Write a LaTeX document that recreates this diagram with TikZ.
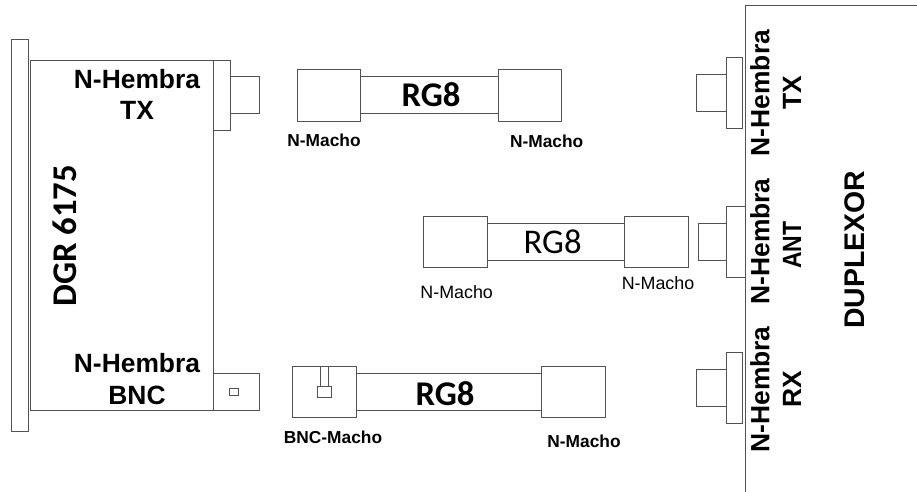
\documentclass[tikz,border=0pt]{standalone}
\usepackage{fontspec}
\setmainfont{Liberation Sans}
\newfontfamily\calibri{Carlito}
\begin{document}
\begin{tikzpicture}[x=0.75pt,y=-0.75pt,
    part/.style={draw=black!68,line width=0.75pt},
    portlabel/.style={font=\fontsize{19.8}{23}\selectfont\bfseries,inner sep=0pt},
    smalllabel/.style={font=\fontsize{13}{15}\selectfont\bfseries,inner sep=0pt},
    thinlabel/.style={font=\fontsize{13.4}{15}\selectfont,inner sep=0pt},
    cablelabel/.style={font=\calibri\fontsize{26}{30}\selectfont\bfseries,inner sep=0pt}]
  \useasboundingbox (0,0) rectangle (917,492);
  % ---- DGR unit, front plate and body ----
  \draw[part] (11.7,39.3) rectangle (28.5,431);
  \draw[part] (30,60.3) rectangle (213,410.3);
  \node[cablelabel,rotate=90] (dgr) at (65,236) {DGR 6175};
  % TX port
  \draw[part] (213,60.3) rectangle (230,130);
  \draw[part] (230,76.7) rectangle (259.5,113.7);
  \node[portlabel] (dgrtxa) at (137,79) {N-Hembra};
  \node[portlabel] (dgrtxb) at (137,110) {TX};
  % BNC port
  \draw[part] (213,373.3) rectangle (259,410.3);
  \draw[part] (229.5,388.7) rectangle (238.5,395.3);
  \node[portlabel] (dgrbnca) at (137,363) {N-Hembra};
  \node[portlabel] (dgrbncb) at (137,395) {BNC};
  % ---- cable 1 ----
  \draw[part] (297,69.7) rectangle (360.7,121);
  \draw[part] (360.7,76.7) rectangle (498.3,113.7);
  \draw[part] (498.3,69.7) rectangle (561.7,121);
  \node[cablelabel] (rgone) at (431,95) {RG8};
  \node[smalllabel] (maleonea) at (324,140) {N-Macho};
  \node[smalllabel] (maleoneb) at (546.7,141) {N-Macho};
  % ---- cable 2 ----
  \draw[part] (423.3,216.3) rectangle (487,267.3);
  \draw[part] (487,223.3) rectangle (624.3,260.3);
  \draw[part] (624.3,216.3) rectangle (688,267.3);
  \node[cablelabel,font=\calibri\fontsize{26}{30}\selectfont] (rgtwo) at (552.7,242) {RG8};
  \node[thinlabel] (maletwoa) at (456.7,291.7) {N-Macho};
  \node[thinlabel] (maletwob) at (658,283) {N-Macho};
  % ---- cable 3 ----
  \draw[part] (292.3,366.3) rectangle (356,417.3);
  \draw[part] (320.3,366.3) rectangle (328.3,386.7);
  \draw[part] (317.3,386.7) rectangle (331,397.3);
  \draw[part] (356,373.3) rectangle (541,410.3);
  \draw[part] (541,366.3) rectangle (605,417.3);
  \node[cablelabel] (rgthree) at (445,394) {RG8};
  \node[smalllabel] (malethreea) at (333,437) {BNC-Macho};
  \node[smalllabel] (malethreeb) at (584,441) {N-Macho};
  % ---- duplexor wall and ports ----
  \draw[part] (917,5.3) -- (745.3,5.3) -- (745.3,492);
  \foreach \y/\f in {93/742.7,242/745,388/742.7} {
    \draw[part] (726.5,\y-35.5) rectangle (\f,\y+35);
  }
  \draw[part] (696.3,74.3) rectangle (726.5,111);
  \draw[part] (698.7,223.3) rectangle (726.5,260);
  \draw[part] (696.3,369.3) rectangle (726.5,406);
  \node[portlabel,rotate=90] (duptxa) at (760,93) {N-Hembra};
  \node[portlabel,rotate=90] (duptxb) at (792,93) {TX};
  \node[portlabel,rotate=90] (dupanta) at (760,241.5) {N-Hembra};
  \node[portlabel,rotate=90,xscale=0.87] (dupantb) at (792,245) {ANT};
  \node[portlabel,rotate=90] (duprxa) at (760,389.5) {N-Hembra};
  \node[portlabel,rotate=90] (duprxb) at (792,389) {RX};
  \node[portlabel,rotate=90,font=\fontsize{21.3}{25}\selectfont\bfseries] (duplexor) at (855,250) {DUPLEXOR};
\end{tikzpicture}
\end{document}
